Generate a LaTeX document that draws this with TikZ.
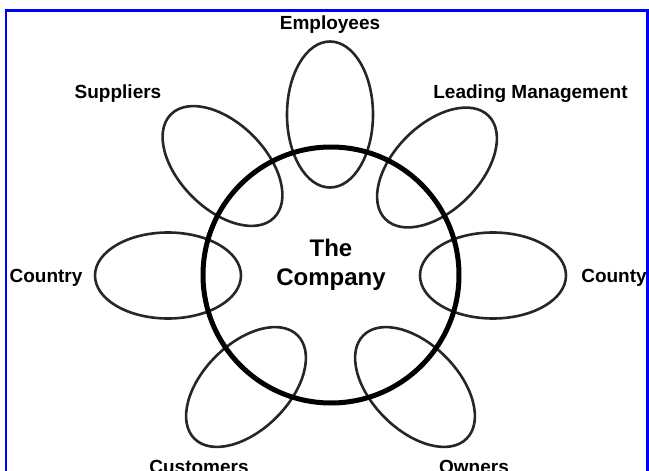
\documentclass[tikz,border=0pt]{standalone}
\usepackage{fontspec}
\setmainfont{Liberation Sans}
\usetikzlibrary{shapes.geometric}

\begin{document}
\begin{tikzpicture}[x=1pt,y=-1pt,
	petal/.style={draw=black!85, ellipse, line width=2.6, inner sep=0, minimum width=146, minimum height=86},
	lbl/.style={font=\fontsize{19}{22}\selectfont\bfseries, anchor=base, inner sep=0}]
				\useasboundingbox (0,0) rectangle (649,471);
				\draw[blue, line width=2.6] (6,10.5) rectangle (647.7,495);
				
				\node[petal, rotate=90] (empl) at (330,114.5) {};
				\node[petal, rotate=-45] (supp) at (222.5,166) {};
				\node[petal, rotate=45] (lead) at (437,167.5) {};
				\node[petal] (ctry) at (168,275.5) {};
				\node[petal] (cnty) at (493,275.5) {};
				\node[petal, rotate=45] (cust) at (246,387) {};
				\node[petal, rotate=-45] (own) at (415,387) {};
				
				\node[draw, circle, line width=5, inner sep=0, minimum size=256] (comp) at (331,275) {};
				\node[align=center, font=\fontsize{24}{29}\selectfont\bfseries] (name) at (331,265) {The\\Company};
				
				\node[lbl] (emplt) at (330,30) {Employees};
				\node[lbl] (suppt) at (118,98) {Suppliers};
				\node[lbl] (leadt) at (530.5,98) {Leading Management};
				\node[lbl] (ctryt) at (46,282) {Country};
				\node[lbl] (cntyt) at (614,282) {County};
				\node[lbl] (custt) at (199,473) {Customers};
				\node[lbl] (ownt) at (474,473) {Owners};
\end{tikzpicture}
\end{document}
